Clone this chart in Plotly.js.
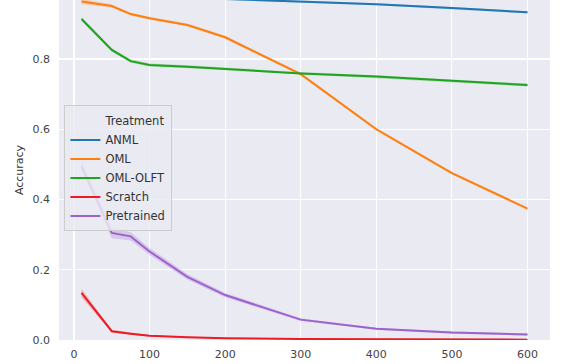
<!DOCTYPE html>
<html>
<head>
<meta charset="utf-8">
<script src="https://cdn.plot.ly/plotly-3.0.1.min.js"></script>
<style>html,body{margin:0;padding:0;background:#fff;}#chart{width:572px;height:364px;}</style>
</head>
<body>
<div id="chart"></div>
<script>
const steps = [10, 50, 75, 100, 150, 200, 300, 400, 500, 600];
const treatments = ["ANML", "OML", "OML-OLFT", "Scratch", "Pretrained"];
const anml       = [0.985, 0.982, 0.980, 0.978, 0.975, 0.971, 0.964, 0.956, 0.945, 0.933];
const oml        = [0.964, 0.951, 0.928, 0.916, 0.897, 0.862, 0.757, 0.600, 0.475, 0.374];
const omlOlft    = [0.914, 0.826, 0.794, 0.783, 0.778, 0.772, 0.759, 0.750, 0.737, 0.726];
const scratch    = [0.134, 0.025, 0.018, 0.012, 0.008, 0.005, 0.003, 0.002, 0.002, 0.001];
const pretrained = [0.495, 0.305, 0.295, 0.252, 0.180, 0.128, 0.058, 0.032, 0.021, 0.016];
const anmlCi       = [0.003, 0.003, 0.003, 0.003, 0.003, 0.003, 0.003, 0.003, 0.003, 0.003];
const omlCi        = [0.008, 0.005, 0.004, 0.004, 0.004, 0.004, 0.004, 0.004, 0.004, 0.004];
const omlOlftCi    = [0.006, 0.005, 0.005, 0.004, 0.004, 0.004, 0.004, 0.004, 0.004, 0.004];
const scratchCi    = [0.012, 0.004, 0.003, 0.002, 0.002, 0.001, 0.001, 0.001, 0.001, 0.001];
const pretrainedCi = [0.015, 0.015, 0.012, 0.010, 0.008, 0.006, 0.004, 0.003, 0.003, 0.003];
const colors = ["#1f77b4", "#ff7f0e", "#1ea51e", "#ec1b24", "#9d62cf"];
const bandColors = ["rgba(31,119,180,0.25)", "rgba(255,127,14,0.25)", "rgba(30,165,30,0.25)", "rgba(236,27,36,0.25)", "rgba(157,98,207,0.25)"];

const series = [anml, oml, omlOlft, scratch, pretrained];
const cis = [anmlCi, omlCi, omlOlftCi, scratchCi, pretrainedCi];

const traces = [];
series.forEach((vals, i) => {
  const upper = vals.map((v, j) => v + cis[i][j]);
  const lower = vals.map((v, j) => v - cis[i][j]);
  traces.push({
    x: steps.concat(steps.slice().reverse()),
    y: upper.concat(lower.slice().reverse()),
    type: "scatter", mode: "lines", fill: "toself",
    fillcolor: bandColors[i], line: {width: 0, color: "rgba(0,0,0,0)"},
    showlegend: false, hoverinfo: "skip"
  });
});
traces.push({
  x: [null], y: [null], type: "scatter", mode: "lines",
  name: "Treatment", line: {color: "rgba(0,0,0,0)", width: 2}
});
series.forEach((vals, i) => {
  traces.push({
    x: steps, y: vals, type: "scatter", mode: "lines",
    name: treatments[i], line: {color: colors[i], width: 2}
  });
});

const layout = {
  width: 572, height: 364,
  margin: {l: 59, r: 22, t: 0, b: 24},
  paper_bgcolor: "#ffffff",
  plot_bgcolor: "#EAEAF2",
  font: {family: "DejaVu Sans, sans-serif", size: 11, color: "#444444"},
  xaxis: {
    range: [-19.8, 629.8],
    tickvals: [0, 100, 200, 300, 400, 500, 600],
    showgrid: true, gridcolor: "#ffffff", gridwidth: 1.2,
    zeroline: false, showline: false,
    ticks: "", ticklabelstandoff: 6,
    tickfont: {size: 11, color: "#444444"}
  },
  yaxis: {
    range: [0, 0.968],
    tickvals: [0, 0.2, 0.4, 0.6, 0.8],
    ticktext: ["0.0", "0.2", "0.4", "0.6", "0.8"],
    showgrid: true, gridcolor: "#ffffff", gridwidth: 1.2,
    zeroline: false, showline: false,
    ticks: "", ticklabelstandoff: 8,
    tickfont: {size: 11, color: "#444444"},
    title: {text: "Accuracy", font: {size: 11, color: "#333333"}, standoff: 6}
  },
  showlegend: true,
  legend: {
    x: 0.011, y: 0.69, xanchor: "left", yanchor: "top",
    bgcolor: "rgba(234,234,242,0.85)",
    bordercolor: "#cccccc", borderwidth: 1,
    font: {size: 11.5, color: "#333333"},
    itemwidth: 30, tracegroupgap: 0
  }
};

Plotly.newPlot("chart", traces, layout, {displayModeBar: false, staticPlot: true});
</script>
</body>
</html>
